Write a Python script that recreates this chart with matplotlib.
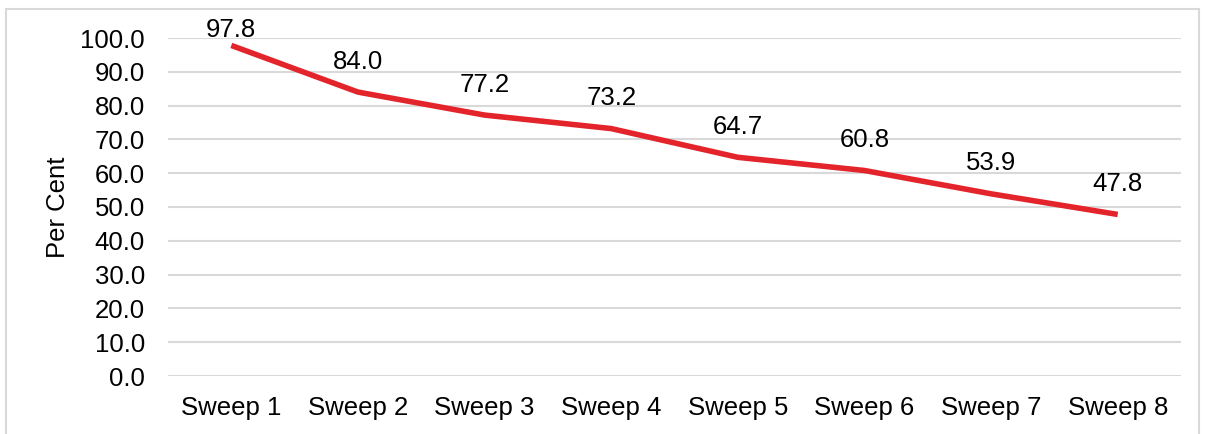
import matplotlib
matplotlib.use("Agg")
import matplotlib.pyplot as plt
from matplotlib.patches import Rectangle

categories = ["Sweep 1", "Sweep 2", "Sweep 3", "Sweep 4", "Sweep 5", "Sweep 6", "Sweep 7", "Sweep 8"]
values = [97.8, 84.0, 77.2, 73.2, 64.7, 60.8, 53.9, 47.8]
yticks = [0, 10, 20, 30, 40, 50, 60, 70, 80, 90, 100]

plt.rcParams['font.family'] = ['Liberation Sans', 'DejaVu Sans']
FS = 18.5

W, H = 1205, 434
fig = plt.figure(figsize=(W / 100, H / 100), dpi=100)
fig.patch.set_facecolor('white')

# outer chart border
fig.add_artist(Rectangle((6 / W, -0.02), (1199 - 6) / W, 1 - 9 / H + 0.02,
                         transform=fig.transFigure, fill=False,
                         edgecolor='#d9d9d9', linewidth=1.5))

ax = fig.add_axes([168 / W, 1 - 376 / H, (1181 - 168) / W, (376 - 38) / H])
x = list(range(len(categories)))
ax.plot(x, values, color='#E3242B', linewidth=4, solid_capstyle='butt', zorder=3)

ax.set_xlim(-0.5, len(categories) - 0.5)
ax.set_ylim(0, 100)
ax.set_yticks(yticks)
ax.set_yticklabels([f"{v:.1f}" for v in yticks], fontsize=FS)
ax.set_xticks(x)
ax.set_xticklabels(categories, fontsize=FS)
ax.tick_params(axis='both', length=0, colors='black')
ax.tick_params(axis='y', pad=16.5)
ax.tick_params(axis='x', pad=14.5)
ax.grid(axis='y', color='#d9d9d9', linewidth=1.5, zorder=0)
for s in ax.spines.values():
    s.set_visible(False)
ax.set_ylabel("Per Cent", fontsize=FS)
ax.yaxis.set_label_coords((70 - 168) / 1013, 0.5)

for i, v in enumerate(values):
    off = 11 if v > 95 else 22
    ax.annotate(f"{v:.1f}", (i, v), xytext=(0, off), textcoords='offset points',
                ha='center', va='center', fontsize=FS, annotation_clip=False)

fig.savefig("out.png", dpi=100)
